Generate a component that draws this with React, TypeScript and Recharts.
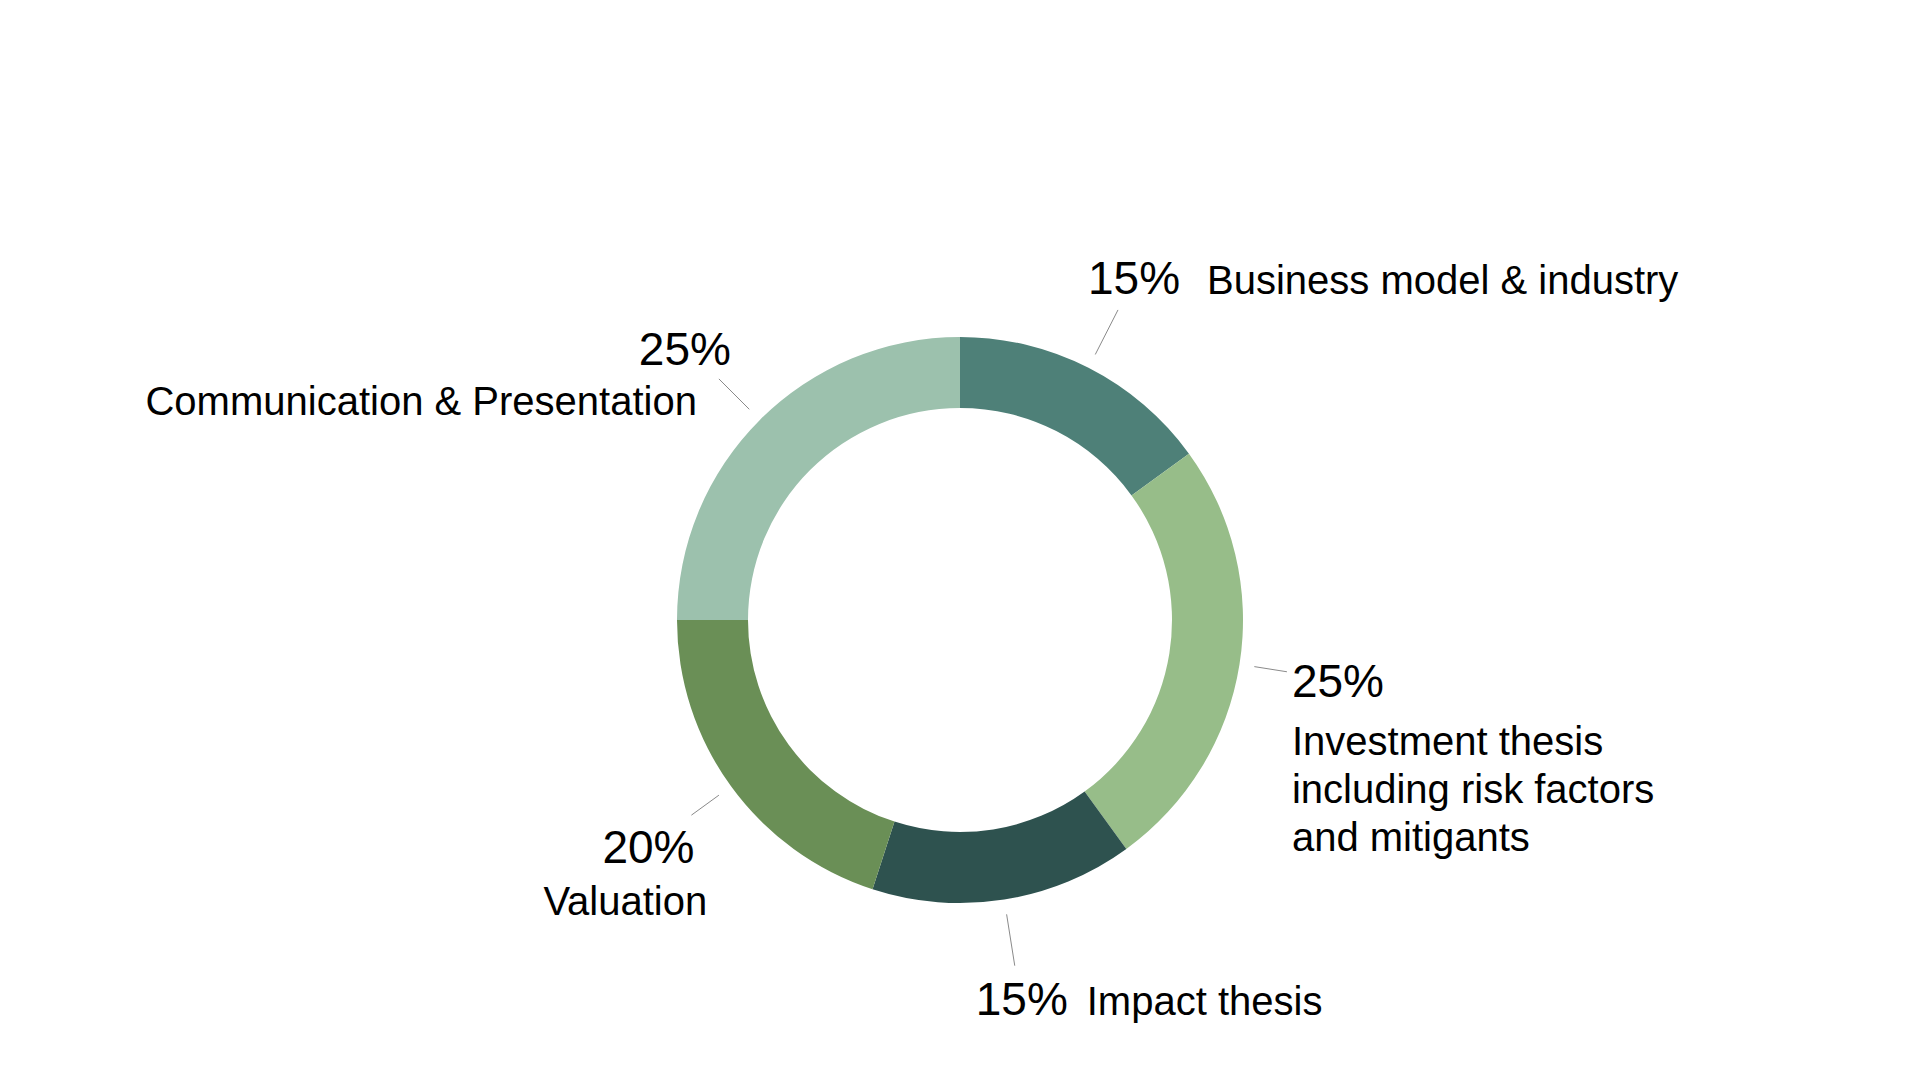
import React from 'react';
import { PieChart, Pie, Cell } from 'recharts';

const categories = [
  'Business model & industry',
  'Investment thesis including risk factors and mitigants',
  'Impact thesis',
  'Valuation',
  'Communication & Presentation',
];
const weights = [15, 25, 15, 20, 25];
const labelLines = [
  ['Business model & industry'],
  ['Investment thesis', 'including risk factors', 'and mitigants'],
  ['Impact thesis'],
  ['Valuation'],
  ['Communication & Presentation'],
];
const colors = ['#4e8078', '#97bd89', '#2e524f', '#6a8f56', '#9cc1ad'];

const data = categories.map((name, i) => ({ name, value: weights[i] }));

// layout of annotations (relative to the leader line end)
const layout = [
  { len: 65, pct: { dx: -30, dy: -16, anchor: 'start' }, lab: { dx: 89, dy: -16, anchor: 'start' } },
  { len: 48, pct: { dx: 5, dy: 25, anchor: 'start' }, lab: { dx: 5, dy: 83, anchor: 'start' } },
  { len: 67, pct: { dx: -39, dy: 49, anchor: 'start' }, lab: { dx: 72, dy: 49, anchor: 'start' } },
  { len: 49, pct: { dx: -89, dy: 48, anchor: 'start' }, lab: { dx: -148, dy: 100, anchor: 'start' } },
  { len: 58, pct: { dx: 12, dy: -14, anchor: 'end' }, lab: { dx: -22, dy: 36, anchor: 'end' } },
];

const FONT = '"Liberation Sans", Arial, Helvetica, sans-serif';
const RAD = Math.PI / 180;

const renderLabel = (props: any) => {
  const { cx, cy, midAngle, outerRadius, index, value } = props;
  const L = layout[index];
  const cos = Math.cos(-midAngle * RAD);
  const sin = Math.sin(-midAngle * RAD);
  const r0 = outerRadius + 15;
  const r1 = outerRadius + L.len;
  const x0 = cx + r0 * cos;
  const y0 = cy + r0 * sin;
  const x1 = cx + r1 * cos;
  const y1 = cy + r1 * sin;
  return (
    <g key={`lab-${index}`}>
      <line x1={x0} y1={y0} x2={x1} y2={y1} stroke="#8a8a8a" strokeWidth={1} />
      <text
        x={x1 + L.pct.dx}
        y={y1 + L.pct.dy}
        textAnchor={L.pct.anchor as any}
        fontFamily={FONT}
        fontSize={46}
        fill="#000"
      >
        {`${value}%`}
      </text>
      {labelLines[index].map((line, j) => (
        <text
          key={j}
          x={x1 + L.lab.dx}
          y={y1 + L.lab.dy + j * 48}
          textAnchor={L.lab.anchor as any}
          fontFamily={FONT}
          fontSize={40}
          fill="#000"
        >
          {line}
        </text>
      ))}
    </g>
  );
};

export default function App() {
  return (
    <div style={{ position: 'absolute', left: 0, top: 0, width: 1920, height: 1080, background: '#fff' }}>
      <PieChart width={1920} height={1080} margin={{ top: 0, right: 0, bottom: 0, left: 0 }}>
        <Pie
          data={data}
          dataKey="value"
          nameKey="name"
          cx={960}
          cy={620}
          innerRadius={212}
          outerRadius={283}
          startAngle={90}
          endAngle={-270}
          stroke="none"
          labelLine={false}
          label={renderLabel}
          isAnimationActive={false}
        >
          {data.map((d, i) => (
            <Cell key={d.name} fill={colors[i]} />
          ))}
        </Pie>
      </PieChart>
    </div>
  );
}
